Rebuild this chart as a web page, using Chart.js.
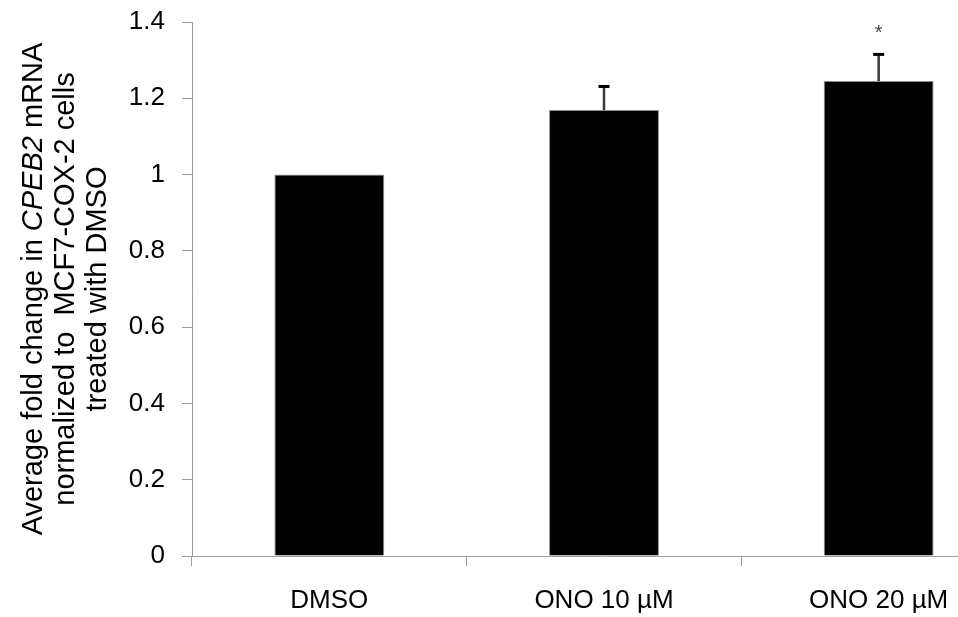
<!DOCTYPE html>
<html>
<head>
<meta charset="utf-8">
<script src="https://cdn.jsdelivr.net/npm/chart.js@4/dist/chart.umd.min.js"></script>
<style>
  html, body { margin: 0; padding: 0; background: #fff; overflow: hidden; }
  #wrap { width: 1040px; height: 617px; }
</style>
</head>
<body>
<div id="wrap"><canvas id="chart"></canvas></div>
<script>
  const categories = ["DMSO", "ONO 10 \u00b5M", "ONO 20 \u00b5M"];
  const foldChange = [1.0, 1.169, 1.245];
  const errorUp = [0, 0.062, 0.07];
  const significance = ["", "", "*"];
  const yTickLabels = ["0", "0.2", "0.4", "0.6", "0.8", "1", "1.2", "1.4"];

  const FONT = "'Liberation Sans', Arial, sans-serif";
  const AXIS_GREY = "#9c9c9c";

  // y-axis title with the gene name in italics
  const titleLines = [
    [["Average fold change in ", false], ["CPEB2", true], [" mRNA", false]],
    [["normalized to  MCF7-COX-2 cells", false]],
    [["treated with DMSO", false]]
  ];

  /* error bars + asterisk */
  const errorBars = {
    id: "errorBars",
    afterDatasetsDraw(chart) {
      const ctx = chart.ctx;
      const y = chart.scales.y;
      const meta = chart.getDatasetMeta(0);
      meta.data.forEach((bar, i) => {
        const top = y.getPixelForValue(foldChange[i]);
        const errTop = y.getPixelForValue(foldChange[i] + errorUp[i]);
        ctx.save();
        if (errorUp[i] > 0) {
          ctx.strokeStyle = "#3a3a3a";
          ctx.lineWidth = 2.5;
          ctx.beginPath();
          ctx.moveTo(bar.x, top);
          ctx.lineTo(bar.x, errTop);
          ctx.stroke();
          ctx.strokeStyle = "#000";
          ctx.lineWidth = 3;
          ctx.beginPath();
          ctx.moveTo(bar.x - 5.5, errTop);
          ctx.lineTo(bar.x + 5.5, errTop);
          ctx.stroke();
        }
        if (significance[i]) {
          ctx.fillStyle = "#444";
          ctx.font = "20px " + FONT;
          ctx.textAlign = "center";
          ctx.textBaseline = "middle";
          ctx.fillText(significance[i], bar.x, errTop - 21);
        }
        ctx.restore();
      });
    }
  };

  /* rotated multi-style axis title */
  const yTitle = {
    id: "yTitle",
    afterDraw(chart) {
      const ctx = chart.ctx;
      const area = chart.chartArea;
      const cy = (area.top + area.bottom) / 2;
      ctx.save();
      ctx.fillStyle = "#000";
      ctx.textBaseline = "middle";
      ctx.textAlign = "left";
      titleLines.forEach((line, li) => {
        let total = 0;
        line.forEach(([txt, it]) => {
          ctx.font = (it ? "italic " : "") + "29px " + FONT;
          total += ctx.measureText(txt).width;
        });
        ctx.save();
        ctx.translate(34 + li * 32, cy);
        ctx.rotate(-Math.PI / 2);
        let x = -total / 2;
        line.forEach(([txt, it]) => {
          ctx.font = (it ? "italic " : "") + "29px " + FONT;
          ctx.fillText(txt, x, 0);
          x += ctx.measureText(txt).width;
        });
        ctx.restore();
      });
      ctx.restore();
    }
  };

  new Chart(document.getElementById("chart"), {
    type: "bar",
    data: {
      labels: categories,
      datasets: [{
        data: foldChange,
        backgroundColor: "#000",
        borderColor: "#8a8a8a",
        borderWidth: 1,
        barPercentage: 0.4,
        categoryPercentage: 1.0
      }]
    },
    options: {
      responsive: true,
      maintainAspectRatio: false,
      animation: false,
      layout: { padding: { top: 22, right: 24, left: 0, bottom: 0 } },
      plugins: {
        legend: { display: false },
        tooltip: { enabled: false }
      },
      scales: {
        x: {
          offset: true,
          grid: {
            offset: true,
            drawOnChartArea: false,
            tickLength: 10,
            color: AXIS_GREY,
            lineWidth: 1
          },
          border: { color: AXIS_GREY, width: 1 },
          ticks: {
            color: "#000",
            padding: 19,
            font: { family: FONT, size: 26 }
          },
          afterFit(scale) {
            scale.height = 61;
            scale.paddingLeft = 0;
            scale.paddingRight = 0;
          }
        },
        y: {
          min: 0,
          max: 1.4,
          grid: {
            drawOnChartArea: false,
            tickLength: 10,
            color: AXIS_GREY,
            lineWidth: 1
          },
          border: { color: AXIS_GREY, width: 1 },
          ticks: {
            stepSize: 0.2,
            color: "#000",
            padding: 17,
            font: { family: FONT, size: 26 },
            callback: (v, i) => yTickLabels[i]
          },
          afterFit(scale) {
            scale.width = 192;
            scale.paddingTop = 0;
            scale.paddingBottom = 0;
          }
        }
      }
    },
    plugins: [errorBars, yTitle]
  });
</script>
</body>
</html>
